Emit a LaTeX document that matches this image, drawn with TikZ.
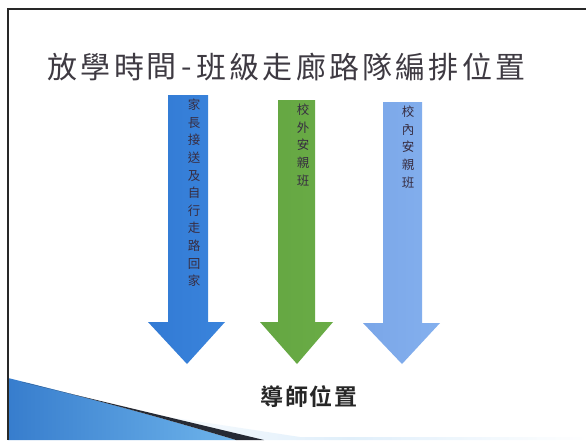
\documentclass[tikz,border=0pt]{standalone}
\usepackage{fontspec}
\newfontfamily\cjk{Noto Sans CJK TC}
\newfontfamily\cjkb{Noto Sans CJK TC Bold}
\definecolor{arrblueL}{RGB}{50,122,212}
\definecolor{arrblueM}{RGB}{88,158,235}
\definecolor{arrblueR}{RGB}{58,132,220}
\definecolor{arrgreenL}{RGB}{100,166,66}
\definecolor{arrgreenM}{RGB}{134,196,94}
\definecolor{arrgreenR}{RGB}{106,172,70}
\definecolor{arrlightL}{RGB}{122,166,232}
\definecolor{arrlightM}{RGB}{162,202,247}
\definecolor{arrlightR}{RGB}{132,176,238}
\definecolor{titlecol}{RGB}{62,58,66}
\definecolor{arrtext}{RGB}{55,45,65}
\definecolor{framecol}{RGB}{40,40,40}
\definecolor{swblueL}{RGB}{55,125,205}
\definecolor{swblueR}{RGB}{110,180,235}
\definecolor{swdark}{RGB}{38,42,52}
\tikzset{
  titlechar/.style={font=\cjk\fontsize{30}{30}\selectfont, text=titlecol, inner sep=0pt, anchor=center},
  vtext/.style={font=\cjk\fontsize{12.5}{17.6}\selectfont, text=arrtext, inner sep=0pt, align=center, anchor=north},
  tchar/.style={font=\cjkb\fontsize{23}{23}\selectfont, text=black!85, inner sep=0pt, anchor=center},
  framepen/.style={draw=framecol, line width=1.6pt}
}
\begin{document}
\begin{tikzpicture}[x=1pt,y=-1pt]
\useasboundingbox (0,0) rectangle (586,440);
\fill[white] (0,0) rectangle (586,440);

% bottom-left swoosh
\shade[left color=white, right color=white, middle color=swblueR!35, opacity=0.6]
  (110,408) -- (262,440) -- (586,440) -- (586,437) -- (300,437) -- cycle;
\shade[left color=swblueL, right color=swblueR]
  (8,378) .. controls (90,398) and (170,420) .. (236,440) -- (8,440) -- cycle;
\fill[swdark] (22,382) .. controls (100,401) and (185,421) .. (264,440) -- (236,440)
  .. controls (170,420) and (90,398) .. (22,382) -- cycle;

% frame
\draw[framepen] (8,440) -- (8,9) -- (586,9);

% title
\foreach \c/\x/\y in {放/62/67,學/95/67,時/129/67,間/161/67,-/187/73,班/211/67,級/244/67,走/277.5/67,廊/311/67,路/344/67,隊/377/67,編/410/67,排/443.5/67,位/477/67,置/510/67}
  \node[titlechar] at (\x,\y) {\c};

% arrows
\shade[left color=arrblueL, middle color=arrblueM, right color=arrblueR]
  (168,95) -- (208,95) -- (208,322) -- (225,322) -- (187,364) -- (148,322) -- (168,322) -- cycle;
\shade[left color=arrgreenL, middle color=arrgreenM, right color=arrgreenR]
  (278,100) -- (315,100) -- (315,322) -- (333,322) -- (297,364) -- (260,322) -- (278,322) -- cycle;
\shade[left color=arrlightL, middle color=arrlightM, right color=arrlightR]
  (383,102) -- (422,102) -- (422,323) -- (440,323) -- (402,364) -- (363,323) -- (383,323) -- cycle;

% arrow texts
\node[vtext] (t1) at (194,99) {家\\長\\接\\送\\及\\自\\行\\走\\路\\回\\家};
\node[vtext] (t2) at (303,104) {校\\外\\安\\親\\班};
\node[vtext] (t3) at (408,106) {校\\內\\安\\親\\班};

% teacher position
\foreach \c/\x in {導/272,師/297,位/321,置/346}
  \node[tchar] at (\x,397) {\c};
\end{tikzpicture}
\end{document}
